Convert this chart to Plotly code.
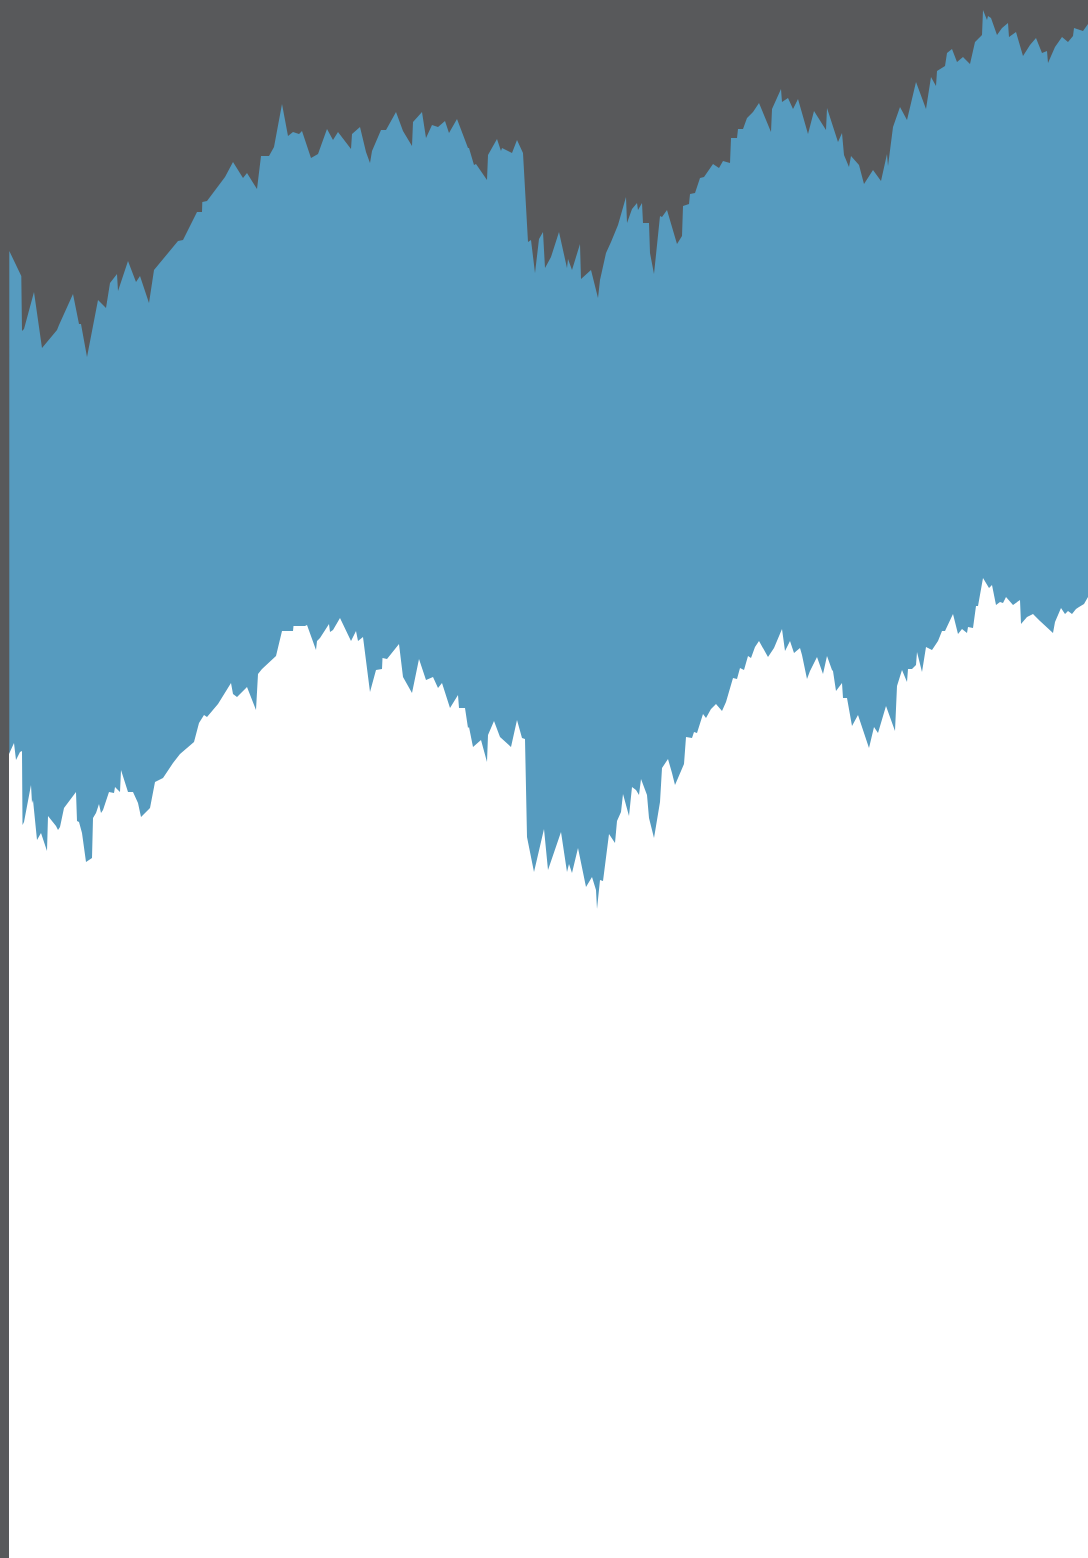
import plotly.graph_objects as go

# Upper envelope (top of blue band)
upper_t = [9.3, 21.3, 22, 24, 34, 42, 57, 59, 73, 79, 81, 87, 98, 106, 110, 117, 118, 128, 136, 140,
           149, 154, 178, 183, 197, 202, 202.3, 207, 225, 233, 243, 247, 257, 261, 269, 274, 282, 288, 293, 299,
           302, 311, 318, 327, 333, 338, 351, 352, 360, 366, 370, 372, 381, 386, 396, 403, 412, 413, 422, 426,
           432, 438, 445, 449, 457, 468, 469, 474, 476, 487, 488, 497, 501, 502, 512, 517, 523, 528, 531, 535,
           539, 543, 545, 551, 559, 567, 568, 572, 580, 581, 591, 598, 600, 606, 611, 618, 626, 627, 632, 637,
           638, 642, 643, 649, 650, 654, 660, 662, 667, 677, 682, 683, 689, 690, 695, 700, 704, 713, 719, 723,
           730, 731, 737, 738, 743, 747, 753, 759, 771, 772, 781, 782, 788, 793, 798, 808, 814, 826, 827, 838,
           842, 844, 849, 851, 859, 864, 873, 881, 887, 888, 893, 900, 907, 916, 926, 931, 936, 937, 945, 947,
           952, 957, 963, 970, 975, 982, 983, 987, 988, 991, 997, 1002, 1008, 1009, 1016, 1023, 1030, 1036, 1042, 1047,
           1048, 1055, 1062, 1068, 1073, 1074, 1083, 1088]
upper_v = [1307, 1282, 1227, 1229, 1266, 1210, 1228, 1233, 1264, 1234, 1234, 1201, 1258, 1250, 1275, 1284, 1267, 1297, 1276, 1282,
           1255, 1288, 1317, 1318, 1346, 1346, 1356, 1357, 1381, 1396, 1380, 1385, 1369, 1402, 1402, 1411, 1454, 1422, 1426, 1424,
           1427, 1400, 1404, 1429, 1418, 1426, 1409, 1424, 1431, 1406, 1395, 1407, 1428, 1428, 1446, 1427, 1412, 1436, 1446, 1420,
           1433, 1431, 1437, 1425, 1439, 1410, 1410, 1393, 1394, 1378, 1403, 1419, 1407, 1410, 1405, 1418, 1405, 1316, 1318, 1285,
           1319, 1326, 1290, 1301, 1326, 1290, 1299, 1288, 1314, 1279, 1288, 1260, 1278, 1305, 1316, 1333, 1361, 1335, 1349, 1355,
           1348, 1355, 1335, 1335, 1305, 1284, 1342, 1341, 1348, 1314, 1322, 1352, 1354, 1364, 1365, 1380, 1381, 1394, 1390, 1397,
           1395, 1420, 1420, 1429, 1429, 1440, 1446, 1455, 1426, 1449, 1469, 1456, 1460, 1449, 1459, 1424, 1447, 1428, 1450, 1416,
           1425, 1403, 1391, 1402, 1393, 1374, 1388, 1377, 1404, 1392, 1431, 1451, 1438, 1476, 1449, 1481, 1472, 1487, 1492, 1505,
           1509, 1496, 1501, 1494, 1516, 1523, 1548, 1538, 1542, 1540, 1523, 1530, 1535, 1521, 1526, 1502, 1513, 1520, 1505, 1507,
           1495, 1511, 1521, 1516, 1522, 1530, 1527, 1534]

# Lower envelope (bottom of blue band)
lower_t = [9, 14, 16, 20, 22, 22.5, 24, 31, 32, 33, 37, 41, 47, 48, 56, 58, 60, 64, 76, 77,
           79, 82, 86, 92, 93, 96, 99, 101, 103, 109, 114, 115, 120, 121, 128, 133, 138, 141, 150, 155,
           163, 173, 180, 194, 199, 204, 207, 211, 218, 231, 233, 237, 247, 256, 258, 262, 276, 282, 293, 293.5,
           305, 307, 316, 317, 320, 329, 330, 333, 340, 351, 356, 358, 363, 370, 376, 382, 382.5, 387, 399, 403,
           412, 419, 426, 433, 438, 442, 450, 458, 459, 465, 468, 469, 473, 481, 487, 488, 494, 500, 511, 517,
           522, 525, 527, 534, 544, 548, 561, 567, 569, 572, 578, 586, 592, 596, 597, 600, 603, 609, 615, 617,
           621, 623, 629, 632, 636, 639, 641, 647, 649, 654, 660, 662, 668, 672, 675, 684, 684.5, 686, 692, 694,
           697, 703, 706, 711, 716, 722, 726, 733, 737, 740, 744, 748, 751, 755, 759, 768, 774, 782, 785, 790,
           794, 800, 802, 807, 810, 817, 823, 827, 832, 833, 836, 842, 843, 847, 852, 858, 869, 874, 878, 886,
           895, 897, 902, 907, 908, 912, 916, 917, 922, 926, 932, 938, 942, 945, 953, 958, 962, 967, 968, 973,
           976, 978, 983, 989, 992, 996, 1000, 1003, 1006, 1013, 1020, 1021, 1027, 1033, 1040, 1053, 1055, 1061, 1065, 1068,
           1072, 1076, 1079, 1084, 1088]
lower_v = [804, 815, 798, 806, 807, 733, 736, 773, 755, 758, 718, 725, 707, 742, 732, 728, 731, 750, 766, 737,
           736, 725, 696, 700, 740, 745, 754, 745, 748, 766, 765, 771, 766, 788, 766, 766, 755, 741, 750, 776,
           780, 795, 804, 816, 835, 843, 841, 846, 854, 875, 864, 861, 871, 848, 884, 889, 902, 927, 927, 932,
           932, 933, 908, 917, 920, 934, 926, 928, 940, 917, 927, 917, 921, 866, 888, 889, 900, 899, 914, 881,
           865, 899, 878, 881, 870, 875, 850, 863, 850, 850, 830, 831, 811, 818, 796, 823, 837, 821, 811, 838,
           820, 819, 721, 686, 729, 688, 726, 686, 694, 685, 710, 671, 681, 668, 649, 678, 677, 724, 715, 737,
           746, 764, 742, 771, 768, 763, 779, 763, 740, 720, 756, 790, 799, 785, 773, 794, 801, 821, 820, 826,
           825, 844, 840, 849, 854, 847, 856, 880, 879, 890, 888, 902, 900, 911, 917, 901, 910, 929, 907, 917,
           905, 910, 903, 879, 887, 901, 884, 902, 888, 887, 867, 875, 860, 860, 832, 843, 810, 831, 825, 852,
           827, 872, 888, 876, 889, 889, 893, 906, 886, 911, 908, 917, 927, 927, 944, 924, 929, 925, 931, 930,
           952, 952, 980, 970, 973, 953, 956, 955, 961, 953, 958, 934, 941, 944, 937, 925, 936, 950, 944, 947,
           944, 949, 951, 954, 961]

GRAY = "#58595b"
BLUE = "#569bbf"

fig = go.Figure()
fig.add_trace(go.Scatter(x=upper_t, y=upper_v, mode="lines", fill="tozeroy",
                         fillcolor=BLUE, line=dict(width=0, color=BLUE), hoverinfo="skip"))
fig.add_trace(go.Scatter(x=lower_t, y=lower_v, mode="lines", fill="tozeroy",
                         fillcolor="#ffffff", line=dict(width=0, color="#ffffff"), hoverinfo="skip"))

fig.update_layout(
    width=1088, height=1558,
    margin=dict(l=0, r=0, t=0, b=0, pad=0),
    paper_bgcolor=GRAY, plot_bgcolor=GRAY,
    showlegend=False,
    xaxis=dict(range=[0, 1088], visible=False, showgrid=False, zeroline=False, fixedrange=True),
    yaxis=dict(range=[0, 1558], visible=False, showgrid=False, zeroline=False, fixedrange=True),
)

fig.write_html("out.html", config={"displayModeBar": False},
               post_script="document.body.style.margin='0';document.body.style.overflow='hidden';")
